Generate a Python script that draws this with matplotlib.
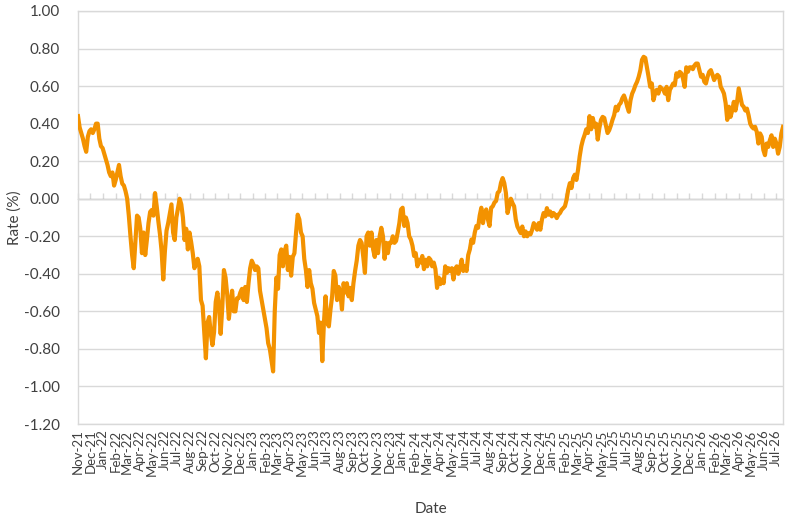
import matplotlib
matplotlib.use("Agg")
import matplotlib.pyplot as plt
import matplotlib.dates as mdates
import pandas as pd

start_date = "2021-11-01"
step = "4D"

seg1 = [0.44, 0.38, 0.35, 0.32, 0.28, 0.25, 0.33, 0.36, 0.37, 0.35,
        0.37, 0.40, 0.40, 0.32, 0.28, 0.27, 0.24, 0.21, 0.18, 0.14,
        0.12, 0.14, 0.07, 0.10, 0.14, 0.18, 0.12, 0.08, 0.07, 0.04,
        0.00, -0.09, -0.20, -0.30, -0.37, -0.23, -0.09, -0.10, -0.16, -0.29,
        -0.18, -0.30, -0.22, -0.13, -0.07, -0.06, -0.09, 0.03, -0.04, -0.12,
        -0.19, -0.28, -0.43, -0.28, -0.17, -0.13, -0.08, -0.03, -0.18, -0.22,
        -0.10, -0.05, 0.00, -0.03, -0.10]
seg2 = [-0.22, -0.16, -0.27, -0.18, -0.23, -0.29, -0.37, -0.35, -0.32, -0.36,
        -0.54, -0.57, -0.71, -0.85, -0.66, -0.63, -0.72, -0.78, -0.71, -0.55,
        -0.50, -0.57, -0.72, -0.58, -0.38, -0.42, -0.51, -0.64, -0.56, -0.49,
        -0.60, -0.60, -0.53, -0.53, -0.50, -0.48, -0.54, -0.47, -0.55, -0.45,
        -0.37, -0.33, -0.35, -0.38, -0.36, -0.37, -0.49, -0.54, -0.59, -0.64,
        -0.69, -0.77, -0.80, -0.86, -0.92, -0.60, -0.42, -0.48, -0.30, -0.27,
        -0.36, -0.28]
seg3 = [-0.25, -0.38, -0.31, -0.41, -0.31, -0.29, -0.18, -0.085, -0.11, -0.18,
        -0.20, -0.32, -0.38, -0.47, -0.38, -0.45, -0.48, -0.555, -0.59, -0.625,
        -0.715, -0.66, -0.865, -0.66, -0.52, -0.66, -0.68, -0.59, -0.52, -0.385,
        -0.41, -0.54, -0.47, -0.50, -0.59, -0.45, -0.50, -0.45, -0.52, -0.475,
        -0.54, -0.45, -0.385, -0.33, -0.25, -0.22, -0.235, -0.31, -0.395, -0.20,
        -0.18, -0.25, -0.18, -0.27, -0.31, -0.22, -0.29, -0.20, -0.155, -0.20,
        -0.32, -0.235, -0.29, -0.235, -0.235, -0.20]
seg4 = [-0.235, -0.225, -0.18, -0.13, -0.057, -0.048, -0.145, -0.10, -0.13, -0.20,
        -0.217, -0.25, -0.305, -0.29, -0.36, -0.325, -0.34, -0.305, -0.375, -0.325,
        -0.36, -0.315, -0.325, -0.36, -0.34, -0.375, -0.475, -0.42, -0.455, -0.43,
        -0.45, -0.36, -0.395, -0.37, -0.385, -0.37, -0.43, -0.375, -0.36, -0.40,
        -0.37, -0.325, -0.385, -0.36, -0.385, -0.30, -0.27, -0.217, -0.235, -0.18,
        -0.145, -0.155, -0.09, -0.048, -0.13, -0.075, -0.057, -0.11, -0.145, -0.048,
        -0.04, -0.02, -0.012, 0.032, 0.04, 0.085, 0.11]
seg5 = [0.083, 0.03, -0.076, -0.04, 0.0, -0.023, -0.04, -0.11, -0.148, -0.165,
        -0.183, -0.148, -0.20, -0.174, -0.20, -0.183, -0.19, -0.165, -0.13, -0.148,
        -0.165, -0.13, -0.165, -0.11, -0.076, -0.094, -0.05, -0.085, -0.068, -0.094,
        -0.076, -0.085, -0.103, -0.085, -0.076, -0.059, -0.05, -0.04, -0.005, 0.048,
        0.083, 0.057, 0.11, 0.128, 0.10, 0.155, 0.226, 0.28, 0.315, 0.34,
        0.37, 0.35, 0.44, 0.37, 0.43, 0.385, 0.40, 0.315, 0.377]
seg6 = [0.42, 0.436, 0.43, 0.39, 0.35, 0.365, 0.39, 0.42, 0.445, 0.49,
        0.47, 0.50, 0.51, 0.535, 0.55, 0.525, 0.49, 0.463, 0.525, 0.56,
        0.58, 0.605, 0.623, 0.65, 0.685, 0.74, 0.756, 0.75, 0.70, 0.65,
        0.596, 0.614, 0.525, 0.56, 0.58, 0.56, 0.596, 0.587, 0.58, 0.56,
        0.596, 0.525, 0.58, 0.596, 0.614, 0.605, 0.668, 0.65, 0.676, 0.668,
        0.64, 0.596, 0.70, 0.676, 0.70]
seg7 = [0.70, 0.69, 0.71, 0.72, 0.72, 0.685, 0.65, 0.66, 0.623, 0.614,
        0.65, 0.676, 0.685, 0.66, 0.632, 0.65, 0.66, 0.65, 0.596, 0.58,
        0.56, 0.51, 0.42, 0.49, 0.436, 0.47, 0.516, 0.47, 0.516, 0.588,
        0.543, 0.50, 0.49, 0.47, 0.48, 0.445, 0.40, 0.383, 0.374, 0.383,
        0.356, 0.294, 0.348, 0.33, 0.26, 0.232, 0.294, 0.276, 0.312, 0.338,
        0.276, 0.32, 0.294, 0.24, 0.276, 0.348, 0.383]

rates = seg1 + seg2 + seg3 + seg4 + seg5 + seg6 + seg7
dates = pd.date_range(start_date, periods=len(rates), freq=step)

y_ticks = [-1.2, -1.0, -0.8, -0.6, -0.4, -0.2, 0.0, 0.2, 0.4, 0.6, 0.8, 1.0]

plt.rcParams['font.family'] = ['Lato', 'DejaVu Sans']

fig = plt.figure(figsize=(8.09, 5.20), dpi=100)
ax = fig.add_axes([78/809, 1-424/520, (783-78)/809, (424-11)/520])

grid_c = '#D9D9D9'
text_c = '#404040'

ax.plot(dates, rates, color='#F39200', linewidth=3.0, solid_joinstyle='round', zorder=3)

ax.set_ylim(-1.2, 1.0)
ax.set_yticks(y_ticks)
ax.yaxis.set_major_formatter(matplotlib.ticker.FormatStrFormatter('%.2f'))
ax.set_xlim(dates[0], dates[-1])
ax.xaxis.set_major_locator(mdates.MonthLocator())
ax.xaxis.set_major_formatter(mdates.DateFormatter('%b-%y'))
ax.grid(axis='y', color=grid_c, linewidth=1.0, zorder=0)
ax.set_axisbelow(True)
for s in ax.spines.values():
    s.set_color(grid_c)
    s.set_linewidth(1.0)

ax.tick_params(axis='x', length=0, labelsize=9.5, labelcolor=text_c, rotation=90, pad=4)
ax.tick_params(axis='y', length=0, labelsize=11, labelcolor=text_c, pad=13)

# category axis crossing at zero with small month ticks
zero_pos = (0 - ax.get_ylim()[0]) / (ax.get_ylim()[1] - ax.get_ylim()[0])
sec = ax.secondary_xaxis(zero_pos)
sec.xaxis.set_major_locator(mdates.MonthLocator())
sec.tick_params(axis='x', length=4, color=grid_c, width=1.0, labelbottom=False, direction='out')
sec.spines['bottom'].set_color(grid_c)
sec.spines['bottom'].set_linewidth(1.0)
sec.xaxis.set_major_formatter(matplotlib.ticker.NullFormatter())

ax.set_ylabel('Rate (%)', fontsize=11, color=text_c)
ax.yaxis.set_label_coords(-0.08, 0.5)
ax.set_xlabel('Date', fontsize=11, color=text_c, labelpad=19)

fig.savefig('out.png', dpi=100)
